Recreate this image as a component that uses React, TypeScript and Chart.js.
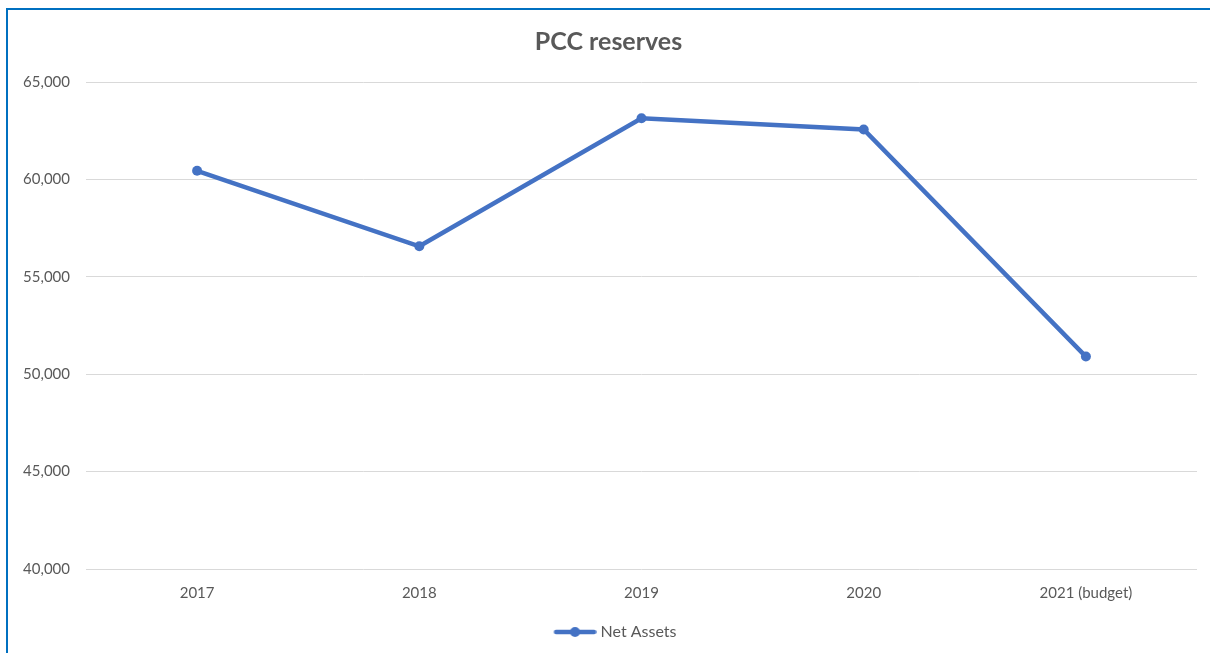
import React, { useEffect, useRef } from "react";
import { Chart, registerables } from "chart.js";

Chart.register(...registerables);

const categories = ["2017", "2018", "2019", "2020", "2021 (budget)"];
const netAssets = [60440, 56565, 63135, 62565, 50905];
const yMin = 40000;
const yMax = 65000;
const yStep = 5000;
const seriesName = "Net Assets";
const titleText = "PCC reserves";

const LINE = "#4472C4";
const TEXT = "#595959";
const FONT = "Lato, 'Open Sans', sans-serif";

function legendIcon(): HTMLCanvasElement {
  const c = document.createElement("canvas");
  c.width = 60;
  c.height = 12;
  const ctx = c.getContext("2d")!;
  ctx.strokeStyle = LINE;
  ctx.lineWidth = 4.5;
  ctx.lineCap = "round";
  ctx.beginPath();
  ctx.moveTo(19.5, 6);
  ctx.lineTo(57.5, 6);
  ctx.stroke();
  ctx.fillStyle = LINE;
  ctx.beginPath();
  ctx.arc(38.5, 6, 5, 0, Math.PI * 2);
  ctx.fill();
  return c;
}

export default function App() {
  const ref = useRef<HTMLCanvasElement>(null);
  useEffect(() => {
    if (!ref.current) return;
    const icon = legendIcon();
    const chart = new Chart(ref.current, {
      type: "line",
      data: {
        labels: categories,
        datasets: [
          {
            label: seriesName,
            data: netAssets,
            borderColor: LINE,
            backgroundColor: LINE,
            borderWidth: 4.5,
            pointRadius: 5,
            pointBackgroundColor: LINE,
            pointBorderWidth: 0,
            tension: 0,
          },
        ],
      },
      options: {
        animation: false,
        responsive: true,
        maintainAspectRatio: false,
        layout: { padding: { left: 20, right: 13, top: 0, bottom: 3 } },
        scales: {
          x: {
            offset: true,
            grid: { display: false, drawTicks: false, tickLength: 0 },
            border: { display: false },
            ticks: { color: TEXT, font: { family: FONT, size: 15 }, padding: 15 },
            afterFit: (s: any) => {
              s.height = 45;
            },
          },
          y: {
            min: yMin,
            max: yMax,
            border: { display: false },
            grid: { color: "#D9D9D9", lineWidth: 1, drawTicks: false },
            ticks: {
              stepSize: yStep,
              color: TEXT,
              font: { family: FONT, size: 15 },
              padding: 16,
              callback: (v: any) => Number(v).toLocaleString("en-US"),
            },
            afterFit: (s: any) => {
              s.width = 66;
            },
          },
        },
        plugins: {
          title: {
            display: true,
            text: titleText,
            color: TEXT,
            font: { family: FONT, size: 25, weight: "bold" },
            padding: { top: 27, bottom: 25 },
          },
          legend: {
            position: "bottom",
            labels: {
              color: TEXT,
              font: { family: FONT, size: 16 },
              usePointStyle: true,
              pointStyleWidth: 52,
              boxHeight: 10,
              generateLabels: (ch: any) =>
                ch.data.datasets.map((d: any, i: number) => ({
                  text: d.label,
                  pointStyle: icon,
                  fillStyle: LINE,
                  strokeStyle: LINE,
                  lineWidth: 0,
                  fontColor: TEXT,
                  datasetIndex: i,
                  hidden: false,
                })),
            },
          },
          tooltip: { enabled: false },
        },
      },
    });
    return () => chart.destroy();
  }, []);

  return (
    <>
      <div
        style={{
          position: "fixed",
          left: 0,
          top: 0,
          width: 1210,
          height: 653,
          background: "#fff",
        }}
      >
        <canvas ref={ref} />
      </div>
      <div
        style={{
          position: "fixed",
          left: 6,
          top: 8,
          width: 1300,
          height: 800,
          borderLeft: "2px solid #0070C0",
          borderTop: "2px solid #0070C0",
          pointerEvents: "none",
        }}
      />
    </>
  );
}
